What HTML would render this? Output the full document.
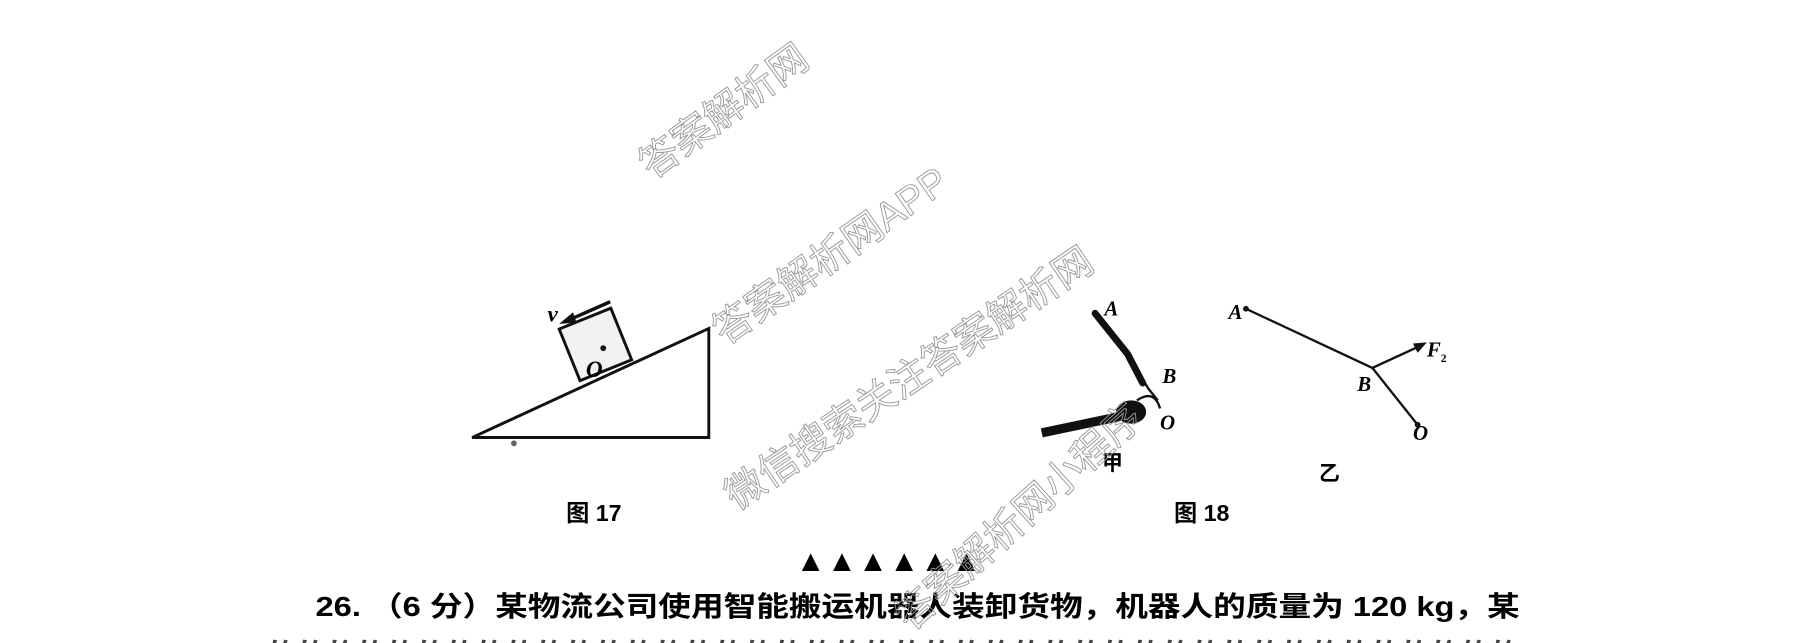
<!DOCTYPE html>
<html><head><meta charset="utf-8"><style>
html,body{margin:0;padding:0;background:#fff;width:1819px;height:643px;overflow:hidden}
svg{display:block}
text{font-family:"Liberation Serif","Noto Serif CJK SC",serif}
.cj{font-family:"Liberation Sans","Noto Sans CJK SC",sans-serif;font-weight:bold}
.wm{font-family:"Liberation Sans","Noto Sans CJK SC",sans-serif;fill:none;stroke:#999;stroke-width:0.8;font-size:34px}
</style></head><body>
<svg width="1819" height="643" viewBox="0 0 1568 554" xmlns="http://www.w3.org/2000/svg">
<rect width="1568" height="554" fill="#fff"/>
<!-- Fig 17 -->
<polygon points="407,377 611,283 611,377" fill="#fff" stroke="#111" stroke-width="2.5"/>
<g transform="translate(500,328) rotate(-22)">
<rect x="0" y="-48" width="48" height="48" fill="#f2f2f2" stroke="#111" stroke-width="2.5"/>
</g>
<circle cx="520" cy="300" r="2.5" fill="#111"/>
<text x="505" y="325" font-size="20" font-style="italic" font-weight="bold">O</text>
<line x1="526" y1="260" x2="492" y2="275" stroke="#111" stroke-width="3"/>
<polygon points="482,279 494,269 497,278" fill="#111"/>
<text x="472" y="277" font-size="20" font-style="italic" font-weight="bold">v</text>
<circle cx="443" cy="382" r="2.5" fill="#666"/>
<text x="488" y="449" font-size="20" class="cj">图 17</text>
<!-- Fig 18 甲 -->
<path d="M944,270 L972,305 L985,330" stroke="#111" stroke-width="6" fill="none" stroke-linecap="round"/>
<path d="M972,305 L990,335 L998,345" stroke="#111" stroke-width="2" fill="none"/>
<path d="M898,373 L960,360 L975,356" stroke="#111" stroke-width="8" fill="none"/>
<ellipse cx="975" cy="355" rx="13" ry="10" fill="#111"/>
<path d="M980,345 Q995,335 1000,352" stroke="#111" stroke-width="2" fill="none"/>
<text x="952" y="272" font-size="18" font-style="italic" font-weight="bold">A</text>
<text x="1002" y="330" font-size="18" font-style="italic" font-weight="bold">B</text>
<text x="1000" y="370" font-size="18" font-style="italic" font-weight="bold">O</text>
<text x="950" y="405" font-size="18" class="cj">甲</text>
<!-- 乙 -->
<circle cx="1074" cy="266" r="2.5" fill="#111"/>
<line x1="1074" y1="266" x2="1183" y2="317" stroke="#111" stroke-width="2"/>
<line x1="1183" y1="317" x2="1222" y2="366" stroke="#111" stroke-width="2"/>
<circle cx="1222" cy="366" r="2.5" fill="#111"/>
<line x1="1183" y1="317" x2="1222" y2="299" stroke="#111" stroke-width="2"/>
<polygon points="1230,295 1218,296 1222,304" fill="#111"/>
<text x="1059" y="275" font-size="18" font-style="italic" font-weight="bold">A</text>
<text x="1230" y="307" font-size="18" font-style="italic" font-weight="bold">F</text>
<text x="1242" y="312" font-size="10" font-weight="bold">2</text>
<text x="1170" y="337" font-size="18" font-style="italic" font-weight="bold">B</text>
<text x="1218" y="379" font-size="18" font-style="italic" font-weight="bold">O</text>
<text x="1137" y="414" font-size="18" class="cj">乙</text>
<text x="1012" y="449" font-size="20" class="cj">图 18</text>
<!-- triangles -->
<text x="686" y="492" font-size="26" class="cj" textLength="160" lengthAdjust="spacing">▲▲▲▲▲▲</text>
<text x="272" y="531" font-size="24" class="cj" textLength="1038" lengthAdjust="spacingAndGlyphs">26. （6 分）某物流公司使用智能搬运机器人装卸货物，机器人的质量为 120 kg，某</text>
<text x="230" y="572" font-size="24" class="cj" fill="#444" textLength="1080" lengthAdjust="spacingAndGlyphs">的的的的的的的的的的的的的的的的的的的的的的的的的的的的的的的的的的的的的的的的的的</text>
<!-- watermarks -->
<text class="wm" transform="translate(562,155) rotate(-36)">答案解析网</text>
<text class="wm" transform="translate(625,298) rotate(-35)">答案解析网APP</text>
<text class="wm" transform="translate(635,440) rotate(-34)">微信搜索关注答案解析网</text>
<text class="wm" transform="translate(785,545) rotate(-42)">答案解析网小程序</text>
</svg>
</body></html>
